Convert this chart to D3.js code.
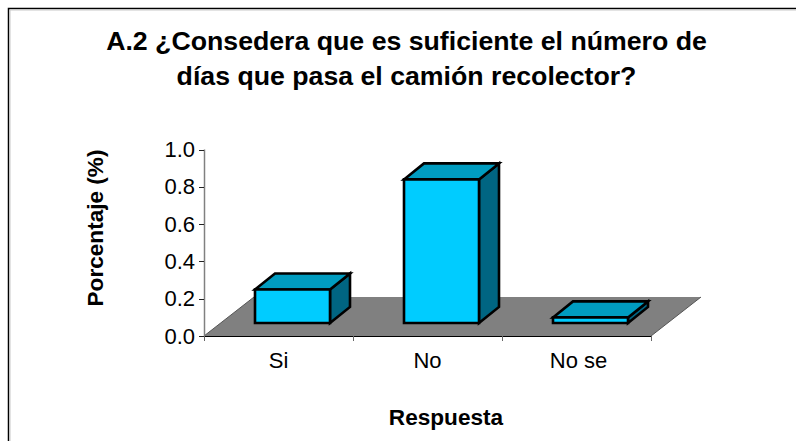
<!DOCTYPE html>
<html lang="es">
<head>
<meta charset="UTF-8">
<title>A.2 Camión recolector</title>
<style>
    body, html { margin: 0; padding: 0; background: #fff; overflow: hidden; }
    text { font-family: 'Liberation Sans', Arial, sans-serif; fill: #000; }
    .title { font-size: 26.7px; font-weight: bold; text-anchor: middle; }
    .axis-title { font-size: 22.6px; font-weight: bold; text-anchor: middle; }
    .tick-label { font-size: 22px; }
    .cat-label { font-size: 22px; text-anchor: middle; }
</style>
</head>
<body>
<svg id="chart" width="796" height="441"></svg>
<script src="https://d3js.org/d3.v7.min.js"></script>
<script>
const categories = ["Si", "No", "No se"];
const values = [0.18, 0.77, 0.03];
const yTicks = [0, 0.2, 0.4, 0.6, 0.8, 1.0];
const titleLines = ["A.2 ¿Consedera que es suficiente el número de", "días que pasa el camión recolector?"];

const svg = d3.select("#chart");

// page frame, only top and left show
svg.append("path").attr("d", "M8.5,441V8.5H796").attr("fill", "none").attr("stroke", "#000").attr("stroke-width", 1.5);
svg.append("path").attr("d", "M10,441V10H796").attr("fill", "none").attr("stroke", "#c8c8c8").attr("stroke-width", 1);

const x = d3.scaleBand().domain(categories).range([204, 651]).paddingInner(0).paddingOuter(0);
const y = d3.scaleLinear().domain([0, 1]).range([336, 149.5]);

const floorDx = 50, floorDy = -39;   // depth of the floor
const barDx = 20, barDy = -16;       // depth of a bar
const barInset = 51, barWidth = 75;  // bar position inside its band
const baseShift = -13;               // bars stand in the middle of the floor

// floor
svg.append("path")
    .attr("d", `M${x.range()[0]},${y(0)}L${x.range()[1]},${y(0)}L${x.range()[1] + floorDx},${y(0) + floorDy}L${x.range()[0] + floorDx},${y(0) + floorDy}Z`)
    .attr("fill", "#808080");
svg.append("path")
    .attr("d", `M${x.range()[0]},${y(0)}L${x.range()[0] + floorDx},${y(0) + floorDy}M${x.range()[1]},${y(0)}L${x.range()[1] + floorDx},${y(0) + floorDy}`)
    .attr("fill", "none").attr("stroke", "#555").attr("stroke-width", 1);

// bars
const bars = svg.selectAll(".bar").data(categories).join("g").attr("class", "bar")
    .attr("stroke", "#000").attr("stroke-width", 2.6).attr("stroke-linejoin", "miter");

const barGeom = (c, i) => {
    const x0 = x(c) + barInset, x1 = x0 + barWidth;
    const yb = y(0) + baseShift, yt = yb - (y(0) - y(values[i]));
    return {x0, x1, yb, yt};
};

bars.append("path").attr("fill", "#006582").attr("d", (c, i) => {
    const g = barGeom(c, i);
    return `M${g.x1},${g.yb}L${g.x1 + barDx},${g.yb + barDy}L${g.x1 + barDx},${g.yt + barDy}L${g.x1},${g.yt}Z`;
});
bars.append("path").attr("fill", "#009CC0").attr("d", (c, i) => {
    const g = barGeom(c, i);
    return `M${g.x0},${g.yt}L${g.x0 + barDx},${g.yt + barDy}L${g.x1 + barDx},${g.yt + barDy}L${g.x1},${g.yt}Z`;
});
bars.append("path").attr("fill", "#00CCFF").attr("d", (c, i) => {
    const g = barGeom(c, i);
    return `M${g.x0},${g.yb}H${g.x1}V${g.yt}H${g.x0}Z`;
});

// value axis
svg.append("line").attr("x1", 204.5).attr("x2", 204.5).attr("y1", y(1)).attr("y2", y(0))
    .attr("stroke", "#808080").attr("stroke-width", 1.5);
svg.selectAll(".ytick").data(yTicks).join("line").attr("class", "ytick")
    .attr("x1", 199).attr("x2", 204).attr("y1", d => Math.round(y(d)) + 0.5).attr("y2", d => Math.round(y(d)) + 0.5)
    .attr("stroke", "#222").attr("stroke-width", 1);
svg.selectAll(".tick-label").data(yTicks).join("text").attr("class", "tick-label")
    .attr("x", 195).attr("y", d => y(d) + 7.5).attr("text-anchor", "end")
    .text(d => d.toFixed(1));

// category axis
svg.append("line").attr("x1", 204).attr("x2", 651).attr("y1", 336.5).attr("y2", 336.5)
    .attr("stroke", "#000").attr("stroke-width", 1.2);
const catEdges = [x(categories[0]), ...categories.map(c => x(c) + x.bandwidth())];
svg.selectAll(".xtick").data(catEdges).join("line").attr("class", "xtick")
    .attr("x1", d => d + 0.5).attr("x2", d => d + 0.5).attr("y1", 336).attr("y2", 341)
    .attr("stroke", "#666").attr("stroke-width", 1);
svg.selectAll(".cat-label").data(categories).join("text").attr("class", "cat-label")
    .attr("x", (c, i) => x(c) + x.bandwidth() / 2 + (i === 2 ? 2 : 0)).attr("y", 368)
    .text(c => c);

// titles
svg.selectAll(".title").data(titleLines).join("text").attr("class", "title")
    .attr("x", 406.5).attr("y", (d, i) => 50 + i * 34.5)
    .text(d => d);
svg.append("text").attr("class", "axis-title").attr("x", 446).attr("y", 425).text("Respuesta");
svg.append("text").attr("class", "axis-title").attr("transform", "translate(103,228) rotate(-90)").text("Porcentaje (%)");
</script>
</body>
</html>
